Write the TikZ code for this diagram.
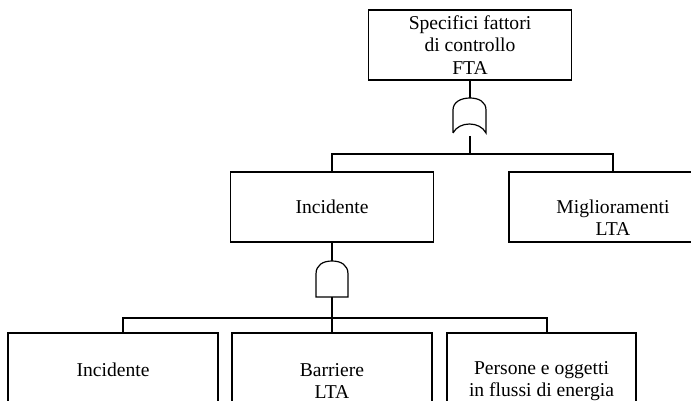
\documentclass[tikz,border=0pt]{standalone}
\usepackage{fontspec}
\setmainfont{Liberation Serif}
\usetikzlibrary{positioning}
\tikzstyle{event} = [draw, rectangle, align=center, inner sep=0pt, line width=1.2pt]
\tikzstyle{wire} = [line width=1.2pt]

\begin{document}
\begin{tikzpicture}[x=1pt, y=-1pt, every node/.style={font=\fontsize{19.6}{22.4}\selectfont}]
            \useasboundingbox (0,0) rectangle (691,401);
            \clip (0,0) rectangle (691,401);

            \node[event, minimum width=203pt, minimum height=70pt] (FTA) at (470,45) {Specifici fattori\\di controllo\\FTA};
            \node[event, minimum width=203pt, minimum height=70pt] (Inc) at (332,207) {Incidente};
            \node[event, minimum width=208pt, minimum height=70pt] (Migl) at (613,207) {\vphantom{M}\\Miglioramenti\\LTA};
            \node[event, minimum width=210pt, minimum height=74pt] (Ev1) at (113,370) {Incidente};
            \node[event, minimum width=200pt, minimum height=96pt] (Ev2) at (332,381) {Barriere\\LTA};
            \node[event, minimum width=189pt, minimum height=96pt] (Ev3) at (541.5,381) {Persone e oggetti\\in flussi di energia};

            % OR gate
            \coordinate (ORin) at (470,98);
            \coordinate (ORout) at (470,136);
            \coordinate (ORbus) at (470,154);
            \draw[wire] (453,133) -- (453,110) .. controls (453,102) and (461,98) .. (ORin)
                .. controls (479,98) and (486,102) .. (486,110) -- (486,133)
                .. controls (480,121) and (459,121) .. (453,133);

            % AND gate
            \coordinate (ANDin) at (332,261);
            \coordinate (ANDout) at (332,297);
            \coordinate (ANDbus) at (332,318);
            \draw[wire] (ANDout) -- (316,297) -- (316,274) .. controls (316,265) and (323,261) .. (ANDin)
                .. controls (341,261) and (348,265) .. (348,274) -- (348,297) -- cycle;

            \draw[wire] (FTA) -- (ORin);
            \draw[wire] (ORout) -- (ORbus);
            \draw[wire] (Inc) |- (ORbus) -| (Migl);

            \draw[wire] (Inc) -- (ANDin);
            \draw[wire] (ANDout) -- (ANDbus);
            \draw[wire] ([xshift=10pt]Ev1.north) |- (ANDbus) -| ([xshift=5.5pt]Ev3.north);
            \draw[wire] (ANDbus) -- (Ev2);
        \end{tikzpicture}
\end{document}
